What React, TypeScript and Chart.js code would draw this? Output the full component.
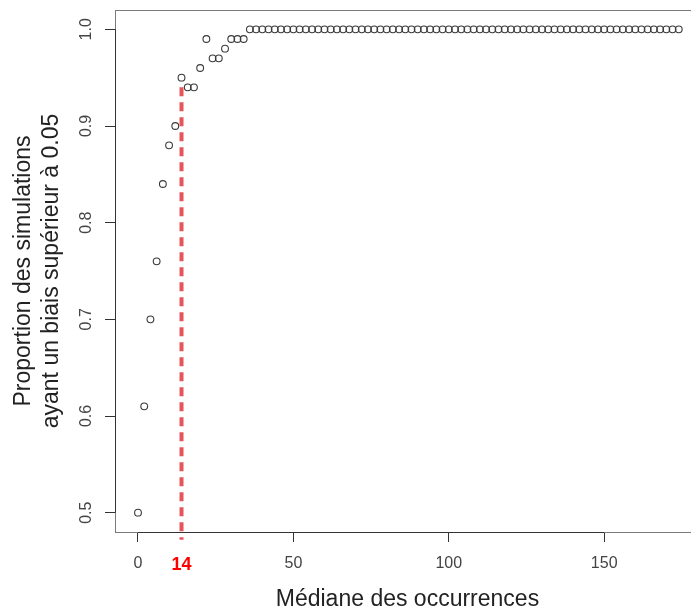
import { useEffect, useRef } from "react";
import { Chart, registerables } from "chart.js";

Chart.register(...registerables);

// median occurrences (x) and proportion of simulations with bias > 0.05 (y)
const medianOccurrences = [
  0, 2, 4, 6, 8, 10, 12, 14, 16, 18, 20, 22, 24, 26, 28, 30, 32, 34, 36, 38,
  40, 42, 44, 46, 48, 50, 52, 54, 56, 58, 60, 62, 64, 66, 68, 70, 72, 74, 76, 78,
  80, 82, 84, 86, 88, 90, 92, 94, 96, 98, 100, 102, 104, 106, 108, 110, 112, 114, 116, 118,
  120, 122, 124, 126, 128, 130, 132, 134, 136, 138, 140, 142, 144, 146, 148, 150, 152, 154, 156, 158,
  160, 162, 164, 166, 168, 170, 172, 174,
];
const proportions = [
  0.5, 0.61, 0.7, 0.76, 0.84, 0.88, 0.9, 0.95, 0.94, 0.94, 0.96, 0.99, 0.97, 0.97, 0.98, 0.99, 0.99, 0.99, 1, 1,
  1, 1, 1, 1, 1, 1, 1, 1, 1, 1, 1, 1, 1, 1, 1, 1, 1, 1, 1, 1,
  1, 1, 1, 1, 1, 1, 1, 1, 1, 1, 1, 1, 1, 1, 1, 1, 1, 1, 1, 1,
  1, 1, 1, 1, 1, 1, 1, 1, 1, 1, 1, 1, 1, 1, 1, 1, 1, 1, 1, 1,
  1, 1, 1, 1, 1, 1, 1, 1,
];

// threshold marker (dashed red segment at x = 14)
const thresholdX = [14, 14];
const thresholdY = [0.94, 0.472];

const xTicks = [0, 14, 50, 100, 150];
const yTicks = [0.5, 0.6, 0.7, 0.8, 0.9, 1.0];
const highlightTick = 14;

const FONT = "'Liberation Sans', Arial, sans-serif";

const rFrame = {
  id: "rFrame",
  beforeDatasetsDraw(chart: any) {
    const { ctx, chartArea: a, scales } = chart;
    const x = scales.x;
    const y = scales.y;
    ctx.save();
    // plot box
    ctx.strokeStyle = "#7a7a7a";
    ctx.lineWidth = 1;
    ctx.strokeRect(a.left + 0.5, a.top + 0.5, a.right - a.left, a.bottom - a.top);
    // axis lines (first to last tick)
    ctx.strokeStyle = "#333";
    ctx.beginPath();
    ctx.moveTo(x.getPixelForValue(0), a.bottom + 0.5);
    ctx.lineTo(x.getPixelForValue(150), a.bottom + 0.5);
    ctx.moveTo(a.left + 0.5, y.getPixelForValue(0.5));
    ctx.lineTo(a.left + 0.5, y.getPixelForValue(1.0));
    ctx.stroke();
    // rotated y tick labels
    ctx.fillStyle = "#444";
    ctx.font = `16px ${FONT}`;
    ctx.textAlign = "center";
    ctx.textBaseline = "middle";
    for (const t of yTicks) {
      ctx.save();
      ctx.translate(87, y.getPixelForValue(t));
      ctx.rotate(-Math.PI / 2);
      ctx.fillText(t.toFixed(1), 0, 0);
      ctx.restore();
    }
    ctx.restore();
  },
};

export default function App() {
  const canvasRef = useRef<HTMLCanvasElement>(null);
  const chartRef = useRef<Chart | null>(null);

  useEffect(() => {
    if (!canvasRef.current) return;
    if (chartRef.current) chartRef.current.destroy();

    chartRef.current = new Chart(canvasRef.current, {
      type: "scatter",
      data: {
        datasets: [
          {
            label: "Proportion",
            data: medianOccurrences.map((m, i) => ({ x: m, y: proportions[i] })),
            pointStyle: "circle",
            pointRadius: 3.4,
            pointBorderWidth: 1.1,
            pointBorderColor: "#3a3a3a",
            pointBackgroundColor: "rgba(0,0,0,0)",
            showLine: false,
          },
          {
            label: "Seuil",
            data: thresholdX.map((v, i) => ({ x: v, y: thresholdY[i] })),
            showLine: true,
            borderColor: "#e6555a",
            borderWidth: 4,
            borderDash: [9, 6],
            pointRadius: 0,
            clip: false as any,
          },
        ],
      },
      options: {
        responsive: false,
        animation: false,
        layout: { padding: { left: 0, top: 10, right: 4, bottom: 0 } },
        plugins: {
          legend: { display: false },
          tooltip: { enabled: false },
        },
        scales: {
          x: {
            type: "linear",
            min: -7.4,
            max: 180.8,
            afterBuildTicks: (s: any) => {
              s.ticks = xTicks.map((v) => ({ value: v }));
            },
            afterFit: (s: any) => {
              s.height = 78;
            },
            border: { display: false },
            grid: {
              drawOnChartArea: false,
              drawTicks: true,
              tickLength: 10,
              tickWidth: 1,
              tickColor: (c: any) =>
                c.tick && c.tick.value === highlightTick ? "rgba(0,0,0,0)" : "#333",
            },
            ticks: {
              padding: 12,
              maxRotation: 0,
              autoSkip: false,
              callback: (v: any) => String(v),
              color: (c: any) =>
                c.tick && c.tick.value === highlightTick ? "#ff0000" : "#444",
              font: (c: any) =>
                c.tick && c.tick.value === highlightTick
                  ? { family: FONT, size: 18, weight: "bold" }
                  : { family: FONT, size: 16 },
            },
            title: {
              display: true,
              text: "Médiane des occurrences",
              color: "#222",
              font: { family: FONT, size: 23, lineHeight: 1 },
              padding: { top: 0, bottom: -1 },
            },
          },
          y: {
            type: "linear",
            min: 0.48,
            max: 1.02,
            afterBuildTicks: (s: any) => {
              s.ticks = yTicks.map((v) => ({ value: v }));
            },
            afterFit: (s: any) => {
              s.width = 115;
            },
            border: { display: false },
            grid: {
              drawOnChartArea: false,
              drawTicks: true,
              tickLength: 10,
              tickWidth: 1,
              tickColor: "#333",
            },
            ticks: { display: false },
            title: {
              display: true,
              text: ["Proportion des simulations", "ayant un biais supérieur à 0.05"],
              color: "#222",
              font: { family: FONT, size: 23, lineHeight: "28px" },
              padding: { top: 10, bottom: 0 },
            },
          },
        },
      },
      plugins: [rFrame],
    });

    return () => {
      if (chartRef.current) {
        chartRef.current.destroy();
        chartRef.current = null;
      }
    };
  }, []);

  return (
    <div
      style={{
        position: "fixed",
        left: 0,
        top: 0,
        width: 691,
        height: 610,
        overflow: "hidden",
        background: "#fff",
      }}
    >
      <canvas ref={canvasRef} width={705} height={610} style={{ width: 705, height: 610 }} />
    </div>
  );
}
